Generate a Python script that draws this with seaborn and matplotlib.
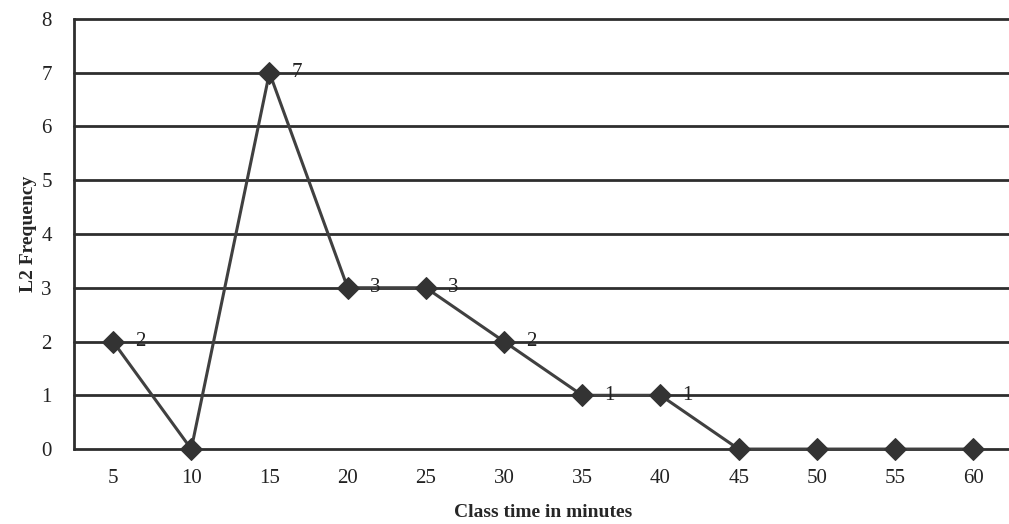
import matplotlib
matplotlib.use("Agg")
import matplotlib.pyplot as plt
import seaborn as sns
import pandas as pd

minutes = ["5", "10", "15", "20", "25", "30", "35", "40", "45", "50", "55", "60"]
frequency = [2, 0, 7, 3, 3, 2, 1, 1, 0, 0, 0, 0]
y_ticks = [0, 1, 2, 3, 4, 5, 6, 7, 8]

sns.set_style("white")
plt.rcParams["font.family"] = ["Liberation Serif", "DejaVu Serif"]

df = pd.DataFrame({"minute": minutes, "freq": frequency})

fig = plt.figure(figsize=(10.09, 5.24), dpi=100)
ax = fig.add_axes([0.0733, 0.143, 0.93, 0.821])

for t in y_ticks:
    ax.axhline(t, color="#2e2e2e", lw=2.0, zorder=1, clip_on=False)

sns.lineplot(data=df, x="minute", y="freq", ax=ax, color="#404040", lw=2.2,
             marker="D", markersize=11, markerfacecolor="#333333",
             markeredgecolor="#333333", zorder=3, clip_on=False)

for i, v in enumerate(frequency):
    if v > 0:
        ax.annotate(str(v), (i, v), xytext=(16, 0), textcoords="offset points",
                    ha="left", va="center", fontsize=15, color="#222222")

ax.set_xlim(-0.5, len(minutes) - 0.5)
ax.set_ylim(0, 8)
ax.set_yticks(y_ticks)
ax.tick_params(axis="both", labelsize=15, length=0, colors="#222222")
ax.tick_params(axis="x", pad=14)
ax.tick_params(axis="y", pad=16)
ax.set_xlabel("Class time in minutes", fontsize=14, fontweight="bold", labelpad=12)
ax.set_ylabel("L2 Frequency", fontsize=14, fontweight="bold", labelpad=3)

for side in ["top", "right", "bottom"]:
    ax.spines[side].set_visible(False)
ax.spines["left"].set_color("#2e2e2e")
ax.spines["left"].set_linewidth(2.0)

fig.savefig("out.png", dpi=100)
